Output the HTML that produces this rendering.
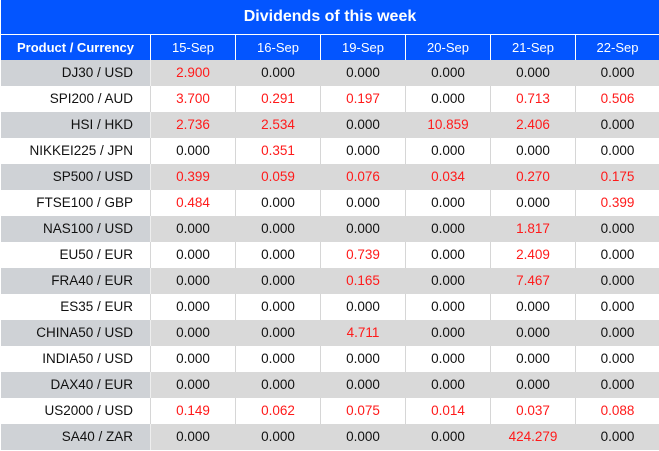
<!DOCTYPE html>
<html><head><meta charset="utf-8"><style>
html,body{margin:0;padding:0;background:#fff;}
body{width:659px;height:451px;position:relative;overflow:hidden;font-family:"Liberation Sans",Arial,sans-serif;}
.title{position:absolute;left:1px;top:0;width:658px;height:34px;background:#0355ff;color:#fff;font-weight:bold;font-size:16px;line-height:33px;text-align:center;}
.hdr{position:absolute;top:35px;height:25px;background:#0355ff;color:#fff;font-size:13px;line-height:25px;text-align:center;}
.c{position:absolute;height:26px;line-height:26px;font-size:13.5px;text-align:center;color:#111;}
.r{color:#ff1a1a;}
.p{text-align:right;box-sizing:border-box;padding-right:17px;}
</style></head><body>
<div class="title">Dividends of this week</div>
<div class="hdr" style="left:1px;width:149px;font-weight:bold;">Product / Currency</div>
<div class="hdr" style="left:151px;width:84px;">15-Sep</div>
<div class="hdr" style="left:236px;width:84px;">16-Sep</div>
<div class="hdr" style="left:321px;width:84px;">19-Sep</div>
<div class="hdr" style="left:406px;width:84px;">20-Sep</div>
<div class="hdr" style="left:491px;width:84px;">21-Sep</div>
<div class="hdr" style="left:576px;width:83px;">22-Sep</div>
<div id="rows"></div>
<script>
var data=[
["DJ30 / USD",["2.900r","0.000","0.000","0.000","0.000","0.000"]],
["SPI200 / AUD",["3.700r","0.291r","0.197r","0.000","0.713r","0.506r"]],
["HSI / HKD",["2.736r","2.534r","0.000","10.859r","2.406r","0.000"]],
["NIKKEI225 / JPN",["0.000","0.351r","0.000","0.000","0.000","0.000"]],
["SP500 / USD",["0.399r","0.059r","0.076r","0.034r","0.270r","0.175r"]],
["FTSE100 / GBP",["0.484r","0.000","0.000","0.000","0.000","0.399r"]],
["NAS100 / USD",["0.000","0.000","0.000","0.000","1.817r","0.000"]],
["EU50 / EUR",["0.000","0.000","0.739r","0.000","2.409r","0.000"]],
["FRA40 / EUR",["0.000","0.000","0.165r","0.000","7.467r","0.000"]],
["ES35 / EUR",["0.000","0.000","0.000","0.000","0.000","0.000"]],
["CHINA50 / USD",["0.000","0.000","4.711r","0.000","0.000","0.000"]],
["INDIA50 / USD",["0.000","0.000","0.000","0.000","0.000","0.000"]],
["DAX40 / EUR",["0.000","0.000","0.000","0.000","0.000","0.000"]],
["US2000 / USD",["0.149r","0.062r","0.075r","0.014r","0.037r","0.088r"]],
["SA40 / ZAR",["0.000","0.000","0.000","0.000","424.279r","0.000"]]
];
var xs=[151,236,321,406,491,576],ws=[84,84,84,84,84,83];
var h="";
for(var i=0;i<data.length;i++){
 var y=60+i*26, g=(i%2==0);
 var sep=g?"#e6e6e6":"#d6d6d6";
 h+='<div class="c p" style="left:1px;top:'+y+'px;width:149px;background:'+(g?"#cfd2d6":"#fff")+'">'+data[i][0]+'</div>';
 h+='<div style="position:absolute;left:150px;top:'+y+'px;width:1px;height:26px;background:'+(g?"#eeeeee":"#d6d6d6")+'"></div>';
 for(var j=0;j<6;j++){
  var v=data[i][1][j],red=v.slice(-1)=="r";if(red)v=v.slice(0,-1);
  h+='<div class="c'+(red?' r':'')+'" style="left:'+xs[j]+'px;top:'+y+'px;width:'+ws[j]+'px;background:'+(g?"#d9d9d9":"#fff")+'">'+v+'</div>';
  if(j<5)h+='<div style="position:absolute;left:'+(xs[j]+84)+'px;top:'+y+'px;width:1px;height:26px;background:'+(g?"#d9d9d9":"#d6d6d6")+'"></div>';
 }
}
document.getElementById("rows").innerHTML=h;
</script>
</body></html>
